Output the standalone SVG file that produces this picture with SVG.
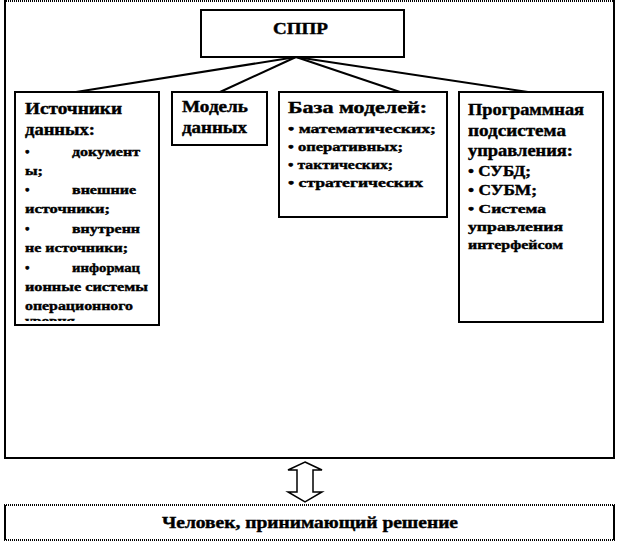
<svg xmlns="http://www.w3.org/2000/svg" width="618" height="545" viewBox="0 0 618 545">
<defs>
<style>
.box{fill:#fff;stroke:#000;stroke-width:2}
.t{font-family:"Liberation Serif","Times New Roman",serif;font-weight:bold;fill:#000;stroke:#000;stroke-width:0.4}
.h{font-size:16px}
.s{font-size:13px}
.m{font-size:14px}
.c{stroke:#000;stroke-width:2;fill:none}
.dot{stroke:#000;stroke-width:2;stroke-dasharray:1 1}
</style>
<clipPath id="clipL"><rect x="16" y="93" width="141" height="228"/></clipPath>
</defs>
<rect width="618" height="545" fill="#fff"/>
<g id="frame">
<line class="dot" x1="4" y1="1" x2="615" y2="1"/>
<line class="c" x1="5" y1="0" x2="5" y2="459"/>
<line class="c" x1="614" y1="0" x2="614" y2="459"/>
<line class="c" x1="4" y1="458" x2="615" y2="458"/>
</g>
<g id="connectors">
<line class="c" x1="296" y1="57" x2="76" y2="92"/>
<line class="c" x1="296" y1="57" x2="220" y2="92"/>
<line class="c" x1="296" y1="57" x2="400" y2="92"/>
<line class="c" x1="296" y1="57" x2="528" y2="92"/>
<polygon points="305,462 322,470 313,470 313,492 322,492 305,502 288,492 297,492 297,470 288,470" fill="#fff" stroke="#000" stroke-width="1.5"/>
</g>
<g id="sppr">
<rect class="box" x="201" y="10" width="203" height="47"/>
<text class="t h" x="273" y="34" textLength="55" lengthAdjust="spacingAndGlyphs">СППР</text>
</g>
<g id="sources">
<rect class="box" x="15" y="92" width="144" height="233"/>
<g clip-path="url(#clipL)">
<text class="t h" x="25" y="114" textLength="97" lengthAdjust="spacingAndGlyphs">Источники</text>
<text class="t h" x="25" y="135" textLength="70" lengthAdjust="spacingAndGlyphs">данных:</text>
<text class="t s" x="25" y="156">•</text><text class="t s" x="72" y="156" textLength="68" lengthAdjust="spacingAndGlyphs">документ</text>
<text class="t s" x="25" y="175" textLength="18" lengthAdjust="spacingAndGlyphs">ы;</text>
<text class="t s" x="25" y="194">•</text><text class="t s" x="72" y="194" textLength="64" lengthAdjust="spacingAndGlyphs">внешние</text>
<text class="t s" x="25" y="213" textLength="85" lengthAdjust="spacingAndGlyphs">источники;</text>
<text class="t s" x="25" y="233">•</text><text class="t s" x="72" y="233" textLength="68" lengthAdjust="spacingAndGlyphs">внутренн</text>
<text class="t s" x="25" y="252" textLength="103" lengthAdjust="spacingAndGlyphs">не источники;</text>
<text class="t s" x="25" y="272">•</text><text class="t s" x="72" y="272" textLength="68" lengthAdjust="spacingAndGlyphs">информац</text>
<text class="t s" x="25" y="291" textLength="123" lengthAdjust="spacingAndGlyphs">ионные системы</text>
<text class="t s" x="25" y="310" textLength="108" lengthAdjust="spacingAndGlyphs">операционного</text>
<text class="t s" x="25" y="325" textLength="50" lengthAdjust="spacingAndGlyphs">уровня</text>
</g>
</g>
<g id="model">
<rect class="box" x="172" y="92" width="95" height="53"/>
<text class="t h" x="182" y="112" textLength="66" lengthAdjust="spacingAndGlyphs">Модель</text>
<text class="t h" x="182" y="133" textLength="65" lengthAdjust="spacingAndGlyphs">данных</text>
</g>
<g id="base">
<rect class="box" x="279" y="92" width="168" height="125"/>
<text class="t h" x="288" y="113" textLength="139" lengthAdjust="spacingAndGlyphs">База моделей:</text>
<text class="t s" x="288" y="133" textLength="148" lengthAdjust="spacingAndGlyphs">• математических;</text>
<text class="t s" x="288" y="151" textLength="115" lengthAdjust="spacingAndGlyphs">• оперативных;</text>
<text class="t s" x="288" y="169" textLength="105" lengthAdjust="spacingAndGlyphs">• тактических;</text>
<text class="t s" x="288" y="187" textLength="135" lengthAdjust="spacingAndGlyphs">• стратегических</text>
</g>
<g id="program">
<rect class="box" x="459" y="92" width="144" height="230"/>
<text class="t h" x="468" y="115" textLength="116" lengthAdjust="spacingAndGlyphs">Программная</text>
<text class="t h" x="468" y="136" textLength="98" lengthAdjust="spacingAndGlyphs">подсистема</text>
<text class="t h" x="468" y="156" textLength="105" lengthAdjust="spacingAndGlyphs">управления:</text>
<text class="t m" x="468" y="176" textLength="63" lengthAdjust="spacingAndGlyphs">• СУБД;</text>
<text class="t m" x="468" y="195" textLength="69" lengthAdjust="spacingAndGlyphs">• СУБМ;</text>
<text class="t s" x="468" y="213" textLength="78" lengthAdjust="spacingAndGlyphs">• Система</text>
<text class="t s" x="468" y="231" textLength="95" lengthAdjust="spacingAndGlyphs">управления</text>
<text class="t s" x="468" y="249" textLength="95" lengthAdjust="spacingAndGlyphs">интерфейсом</text>
</g>
<g id="person">
<rect x="4" y="505" width="610" height="35" fill="#fff"/>
<line class="dot" x1="4" y1="505" x2="615" y2="505"/>
<line class="dot" x1="4" y1="540" x2="615" y2="540"/>
<line class="c" x1="5" y1="505" x2="5" y2="540"/>
<line class="c" x1="614" y1="505" x2="614" y2="540"/>
<text class="t h" x="162" y="528" textLength="296" lengthAdjust="spacingAndGlyphs">Человек, принимающий решение</text>
</g>
</svg>
